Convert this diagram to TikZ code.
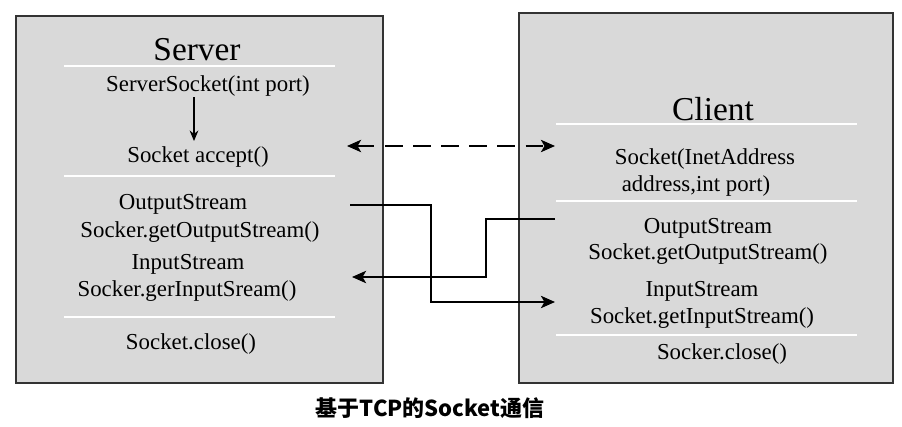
\documentclass[tikz,border=0pt]{standalone}
\usepackage{fontspec}
\setmainfont{Liberation Serif}
\newfontfamily\cjk{Noto Sans CJK SC}
\usetikzlibrary{arrows.meta}

\begin{document}
\begin{tikzpicture}[x=0.02cm,y=-0.02cm,
		panel/.style={draw=black!80,line width=0.6pt,fill=black!15},
		sep/.style={draw=white,line width=0.9pt},
		txt/.style={font=\fontsize{13}{15}\selectfont,inner sep=0pt},
		head/.style={font=\fontsize{19}{22}\selectfont,inner sep=0pt},
		link/.style={line width=1.2pt,-{Stealth[length=8pt,width=7pt,inset=2pt]}},
		twoway/.style={line width=1.2pt,{Stealth[length=8pt,width=7pt,inset=2pt]}-{Stealth[length=8pt,width=7pt,inset=2pt]},dash pattern=on 10pt off 6pt}]
		%%%%% START %%%%%
		\useasboundingbox (0, 0) rectangle (902, 426);
		
		% server side
		\draw[panel] (16, 16) rectangle (383, 383);
		\draw[sep] (64, 66) -- (335, 66);
		\draw[sep] (64, 176) -- (335, 176);
		\draw[sep] (64, 317) -- (335, 317);
		\node[head] (server) at (197, 50) {Server};
		\node[txt] (ssock) at (208, 86) {ServerSocket(int port)};
		\node[txt] (accept) at (198, 157) {Socket accept()};
		\node[txt] (sout) at (183, 204) {OutputStream};
		\node[txt] (soutget) at (200, 232) {Socker.getOutputStream()};
		\node[txt] (sin) at (188, 264) {InputStream};
		\node[txt] (singet) at (187, 291) {Socker.gerInputSream()};
		\node[txt] (sclose) at (191, 344) {Socket.close()};
		\draw[line width=0.6pt,-{Stealth[length=6pt,width=5pt]}] (194, 97) -- (194, 141);
		
		% client side
		\draw[panel] (519, 13) rectangle (893, 383);
		\draw[sep] (556, 124) -- (857, 124);
		\draw[sep] (556, 201) -- (857, 201);
		\draw[sep] (556, 335) -- (857, 335);
		\node[head] (client) at (713, 109) {Client};
		\node[txt] (csock) at (705, 159) {Socket(InetAddress};
		\node[txt] (caddr) at (696, 186) {address,int port)};
		\node[txt] (cout) at (708, 228) {OutputStream};
		\node[txt] (coutget) at (708, 254) {Socket.getOutputStream()};
		\node[txt] (cin) at (702, 291) {InputStream};
		\node[txt] (cinget) at (702, 318) {Socket.getInputStream()};
		\node[txt] (cclose) at (722, 354) {Socker.close()};
		
		% connections
		\coordinate (dashL) at (347, 146);
		\coordinate (dashR) at (555, 146);
		\coordinate (sOutEnd) at (350, 205);
		\coordinate (cInEnd) at (555, 302);
		\coordinate (cOutEnd) at (555, 219);
		\coordinate (sInEnd) at (352, 277);
		\coordinate (bendA) at (431, 250);
		\coordinate (bendB) at (486, 250);
		\draw[twoway] (dashL) -- (dashR);
		\draw[link] (sOutEnd) -| (bendA) |- (cInEnd);
		\draw[link] (cOutEnd) -| (bendB) |- (sInEnd);
		
		% caption
		\node[font=\cjk\bfseries\fontsize{12.5}{14}\selectfont, inner sep=0pt] (caption) at (430, 408) {基于TCP的Socket通信};
		%%%%% END %%%%%
\end{tikzpicture}
\end{document}
